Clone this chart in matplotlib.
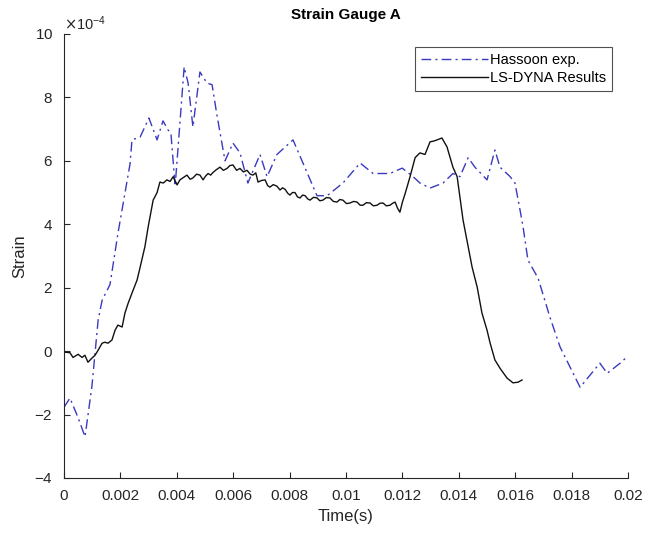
import numpy as np
import matplotlib
matplotlib.use("Agg")
import matplotlib.pyplot as plt
from matplotlib.ticker import ScalarFormatter, FuncFormatter, MultipleLocator

plt.rcParams['font.family'] = ['Liberation Sans', 'DejaVu Sans']
plt.rcParams['axes.unicode_minus'] = False

# Hassoon experimental strain (time in ms, strain in 1e-4)
hassoon_t_ms = [0.00, 0.21, 0.50, 0.745, 0.99, 1.10, 1.21, 1.35, 1.63, 1.91, 2.34, 2.41,
                2.70, 3.01, 3.30, 3.51, 3.69, 3.79, 3.94, 4.26, 4.40, 4.57, 4.82, 5.07,
                5.25, 5.43, 5.71, 5.99, 6.24, 6.52, 6.95, 7.20, 7.55, 8.12, 8.97, 9.33,
                9.89, 10.50, 10.96, 11.56, 11.99, 12.38, 12.62, 12.98, 13.44, 13.79,
                14.04, 14.33, 14.57, 15.00, 15.28, 15.46, 15.82, 15.99, 16.17, 16.28,
                16.45, 16.81, 17.23, 17.59, 18.30, 19.00, 19.26, 19.72, 20.00]
hassoon_strain = [-1.77, -1.48, -2.1, -2.70, -1.10, -0.06, 0.98, 1.60, 2.10, 3.70, 5.90, 6.66,
                  6.75, 7.35, 6.66, 7.26, 6.97, 6.88, 5.20, 8.96, 8.45, 7.07, 8.80, 8.45,
                  8.40, 7.40, 6.00, 6.56, 6.25, 5.30, 6.20, 5.50, 6.20, 6.66, 4.90, 4.90,
                  5.30, 5.93, 5.60, 5.60, 5.77, 5.50, 5.30, 5.14, 5.30, 5.60,
                  5.50, 6.10, 5.80, 5.40, 6.34, 5.80, 5.50, 5.30, 4.45, 3.90,
                  2.87, 2.30, 1.07, 0.13, -1.14, -0.38, -0.70, -0.38, -0.15]

# LS-DYNA computed strain (time in ms, strain in 1e-4)
lsdyna_t_ms = [0.00, 0.21, 0.32, 0.50, 0.64, 0.74, 0.85, 0.99, 1.10, 1.21, 1.35, 1.45,
               1.56, 1.70, 1.81, 1.91, 2.06, 2.16, 2.27, 2.41, 2.59, 2.70, 2.87, 2.98,
               3.16, 3.30, 3.40, 3.52, 3.65, 3.76, 3.87, 4.01, 4.11, 4.24, 4.36, 4.47,
               4.57, 4.70, 4.82, 4.93, 5.02, 5.11, 5.20, 5.28, 5.40, 5.53, 5.65, 5.78,
               5.88, 5.99, 6.12, 6.24, 6.36, 6.49, 6.60, 6.70, 6.80, 6.88, 7.00, 7.13,
               7.22, 7.30, 7.42, 7.55, 7.66, 7.75, 7.84, 7.93, 8.01, 8.10, 8.19, 8.28,
               8.37, 8.46, 8.55, 8.64, 8.72, 8.85, 8.97, 9.07, 9.18, 9.30, 9.43, 9.55,
               9.68, 9.78, 9.89, 10.02, 10.14, 10.27, 10.39, 10.50, 10.60, 10.72, 10.85,
               10.97, 11.10, 11.20, 11.31, 11.43, 11.56, 11.65, 11.74, 11.83, 11.91,
               12.00, 12.09, 12.27, 12.45, 12.62, 12.80, 12.98, 13.10, 13.23, 13.40,
               13.58, 13.79, 13.94, 14.15, 14.47, 14.65, 14.82, 15.00, 15.11, 15.28,
               15.46, 15.71, 15.92, 16.10, 16.24]
lsdyna_strain = [-0.03, -0.05, -0.20, -0.10, -0.20, -0.13, -0.35, -0.22, -0.13, 0.03, 0.25, 0.28,
                 0.25, 0.35, 0.66, 0.82, 0.76, 1.20, 1.50, 1.83, 2.24, 2.65, 3.30, 3.90,
                 4.76, 5.00, 5.33, 5.30, 5.40, 5.35, 5.50, 5.24, 5.40, 5.48, 5.55, 5.42,
                 5.46, 5.58, 5.55, 5.40, 5.52, 5.60, 5.55, 5.63, 5.72, 5.80, 5.70, 5.76,
                 5.85, 5.87, 5.70, 5.76, 5.65, 5.70, 5.58, 5.55, 5.62, 5.33, 5.38, 5.40,
                 5.22, 5.17, 5.25, 5.20, 5.08, 5.15, 5.10, 4.98, 4.92, 5.00, 5.00, 4.86,
                 4.83, 4.92, 4.90, 4.80, 4.76, 4.85, 4.83, 4.74, 4.76, 4.84, 4.83, 4.72,
                 4.70, 4.78, 4.76, 4.65, 4.67, 4.72, 4.70, 4.60, 4.60, 4.68, 4.67,
                 4.58, 4.60, 4.66, 4.67, 4.58, 4.60, 4.66, 4.70, 4.50, 4.38,
                 4.70, 4.95, 5.50, 6.10, 6.25, 6.20, 6.60, 6.62, 6.66, 6.72,
                 6.44, 5.80, 5.50, 4.13, 2.65, 2.02, 1.20, 0.66, 0.25, -0.28,
                 -0.54, -0.85, -1.00, -0.98, -0.91]

series_labels = ["Hassoon exp.", "LS-DYNA Results"]
x_ticks = [0, 0.002, 0.004, 0.006, 0.008, 0.01, 0.012, 0.014, 0.016, 0.018, 0.02]

fig = plt.figure(figsize=(6.48, 5.39), dpi=100)
ax = fig.add_axes([0.0988, 0.1132, 0.8704, 0.8238])

axis_col = '#262626'
ax.plot(np.array(hassoon_t_ms) * 1e-3, np.array(hassoon_strain) * 1e-4,
        linestyle=(0, (7, 3, 1.5, 3)), color='#3a3ac0', linewidth=1.0,
        label=series_labels[0])
ax.plot(np.array(lsdyna_t_ms) * 1e-3, np.array(lsdyna_strain) * 1e-4,
        linestyle='-', color='#111111', linewidth=1.0, label=series_labels[1])

ax.set_xlim(0, 0.02)
ax.set_ylim(-4e-4, 10e-4)
ax.set_xticks(x_ticks)
ax.xaxis.set_major_formatter(FuncFormatter(lambda v, p: '%g' % round(v, 6)))
ax.yaxis.set_major_locator(MultipleLocator(2e-4))
fmt = ScalarFormatter(useMathText=True)
fmt.set_powerlimits((-4, -4))
ax.yaxis.set_major_formatter(fmt)

for side in ('top', 'right'):
    ax.spines[side].set_visible(False)
for side in ('left', 'bottom'):
    ax.spines[side].set_color(axis_col)
    ax.spines[side].set_linewidth(0.8)
ax.tick_params(direction='in', length=4, width=0.8, colors=axis_col,
               labelsize=11, labelcolor=axis_col)
ax.tick_params(axis='x', pad=8)
ax.tick_params(axis='y', pad=8)
ax.yaxis.get_offset_text().set_fontsize(10.5)
ax.yaxis.get_offset_text().set_color(axis_col)

ax.set_xlabel('Time(s)', fontsize=12, color=axis_col, labelpad=4)
ax.set_ylabel('Strain', fontsize=12, color=axis_col, labelpad=5)
ax.set_title('Strain Gauge A', fontsize=11, fontweight='bold', pad=11)

leg = ax.legend(loc='upper right', fontsize=10.5, frameon=True, fancybox=False,
                edgecolor=axis_col, borderpad=0.4, handlelength=4.6,
                handletextpad=0.15, labelspacing=0.3, borderaxespad=0,
                bbox_to_anchor=(0.972, 0.97))
leg.get_frame().set_linewidth(0.8)

fig.savefig('out.png', dpi=100)
